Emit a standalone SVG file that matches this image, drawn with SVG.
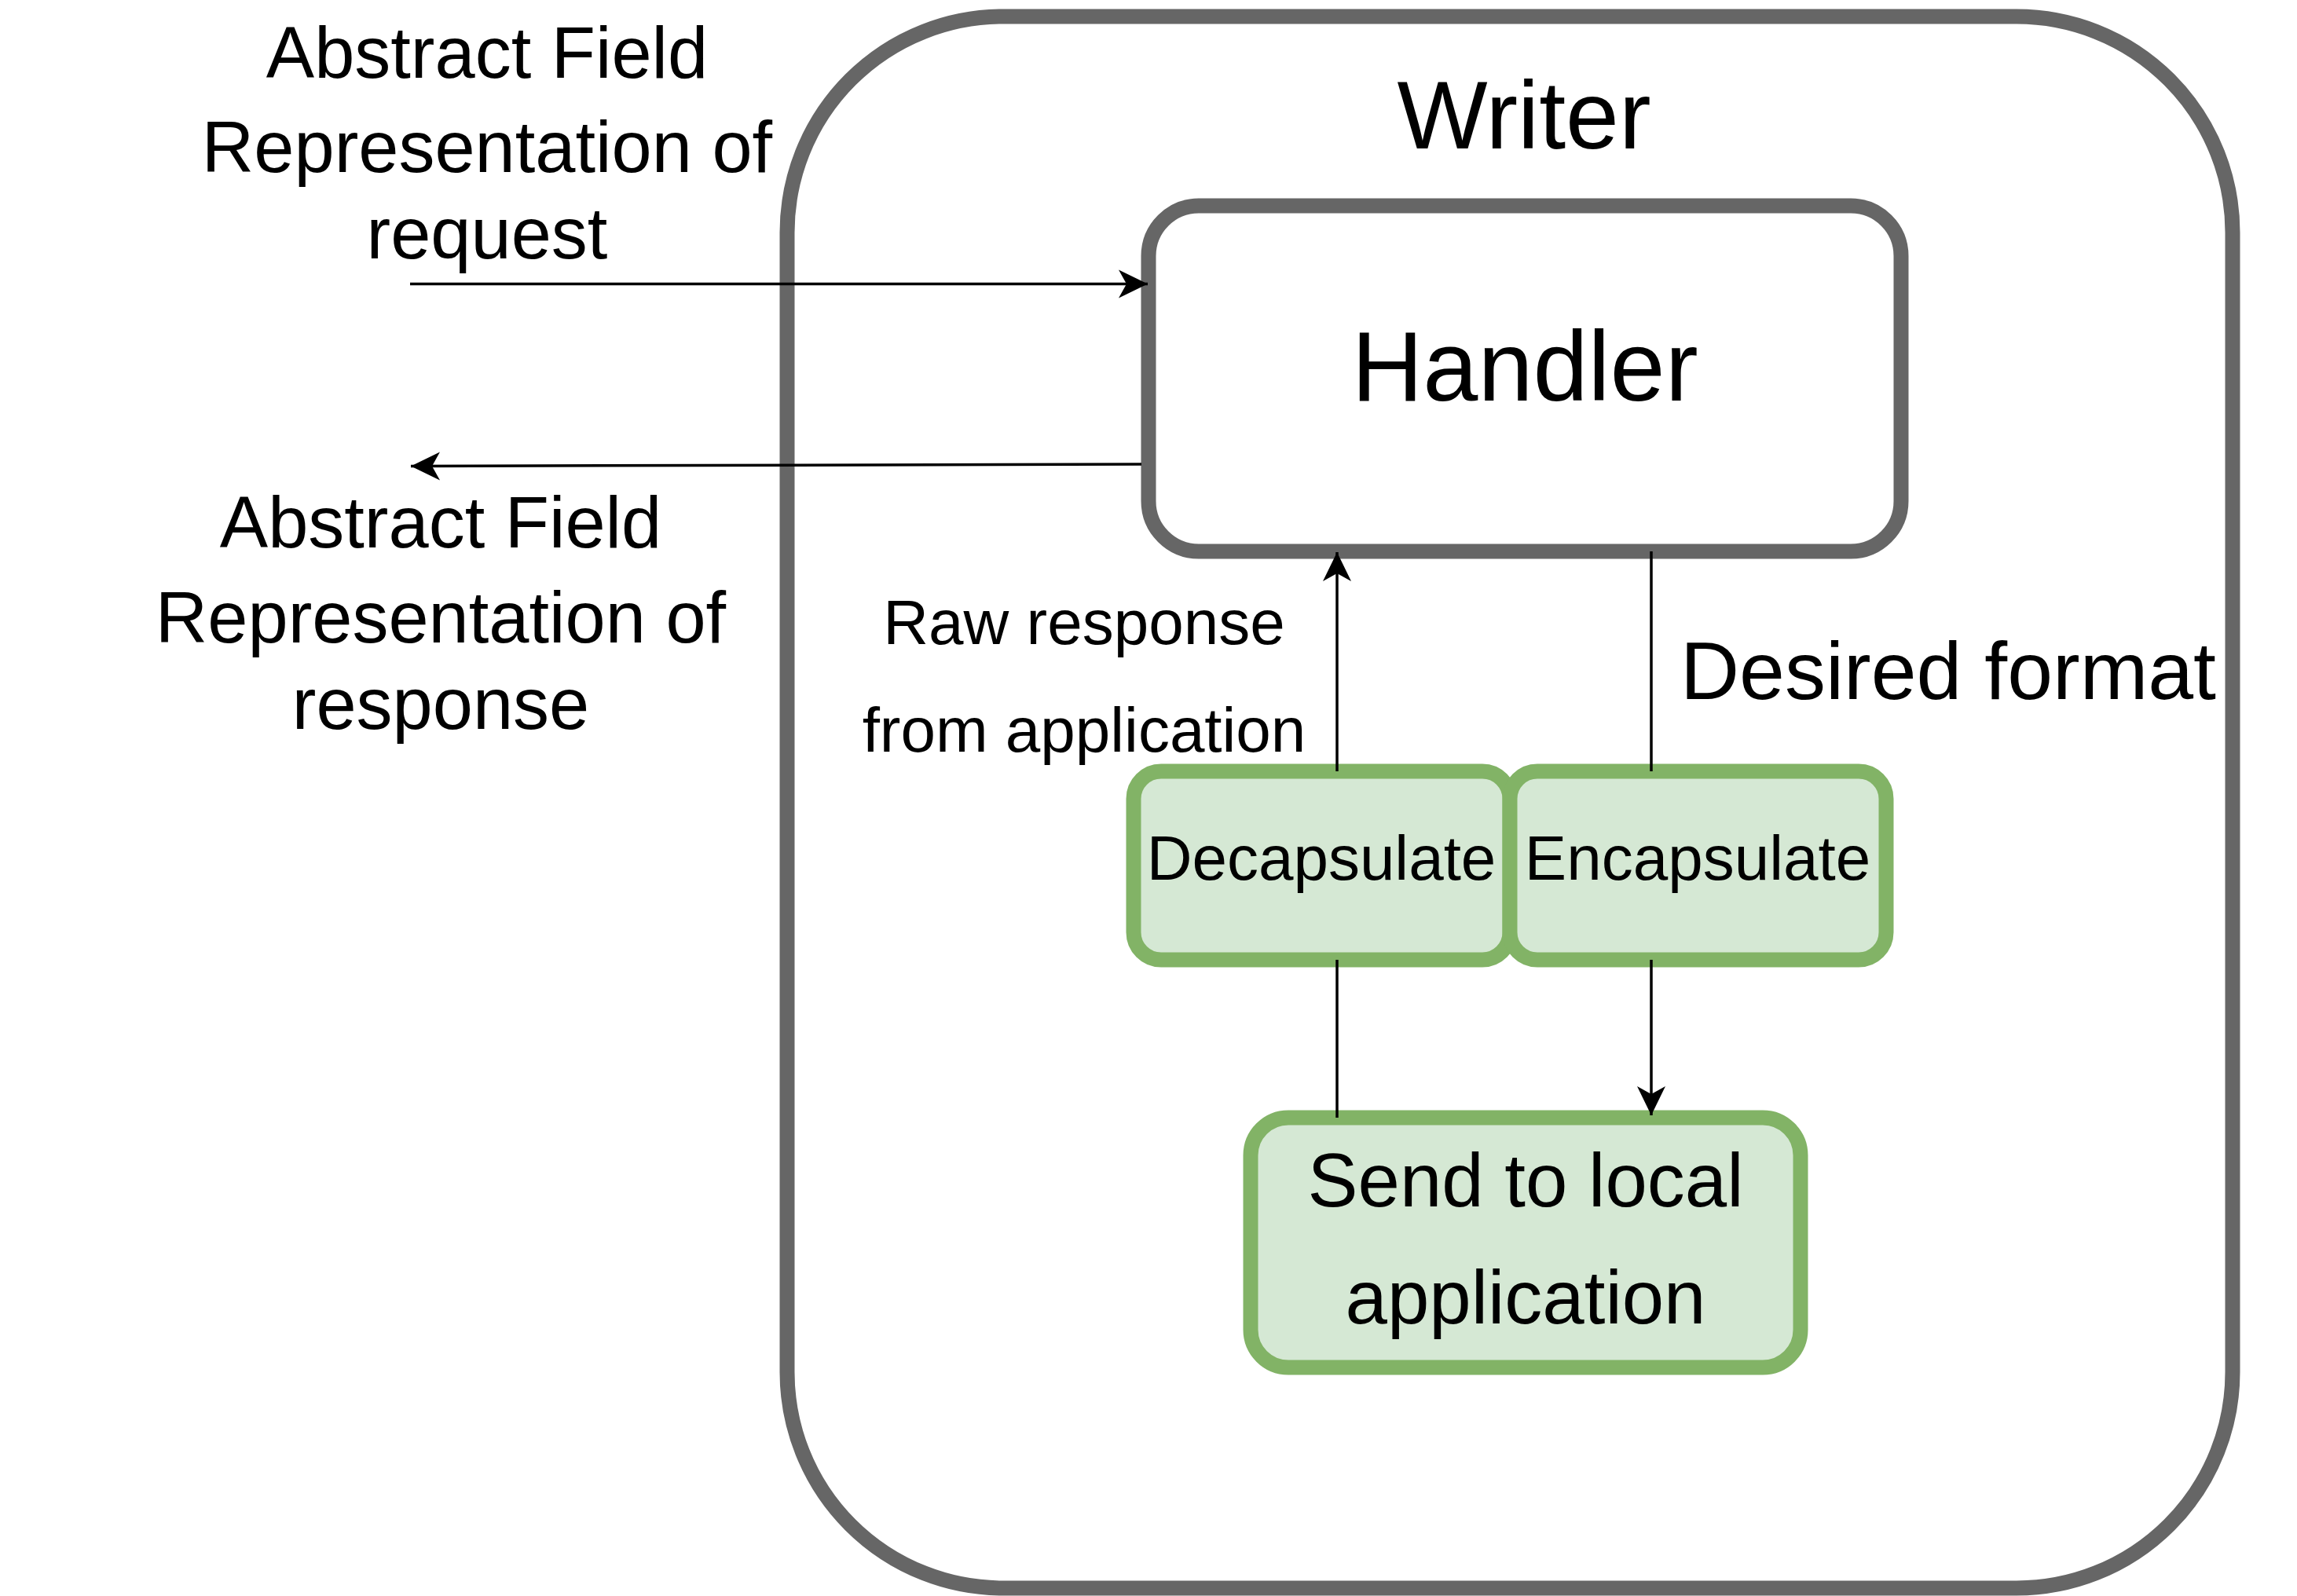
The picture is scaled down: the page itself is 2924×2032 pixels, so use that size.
<svg xmlns="http://www.w3.org/2000/svg" width="2924" height="2032" viewBox="0 0 2924 2032">
<style>
text{font-family:"Liberation Sans",Arial,Helvetica,sans-serif;fill:#000}
.gray{fill:#ffffff;stroke:#666666;stroke-width:19}
.green{fill:#d5e8d4;stroke:#82b366;stroke-width:19}
.edge{fill:none;stroke:#000;stroke-width:3.5}
.mid{text-anchor:middle}
</style>
<defs>
<marker id="arrow" markerUnits="userSpaceOnUse" markerWidth="40" markerHeight="40" refX="37" refY="18" orient="auto" overflow="visible">
<path d="M37,18 L0,0 L10,18 L0,36 Z" fill="#000"/>
</marker>
</defs>
<rect width="2924" height="2032" fill="#ffffff"/>
<g id="writer">
<rect class="gray" x="1002" y="21" width="1840" height="2001" rx="275" ry="275"/>
<text class="mid" x="1940" y="189" font-size="122">Writer</text>
</g>
<g id="handler">
<rect class="gray" x="1462" y="262" width="958" height="440" rx="64" ry="64"/>
<text class="mid" x="1941" y="510" font-size="126">Handler</text>
</g>
<g id="decapsulate">
<rect class="green" x="1443" y="982" width="479" height="240" rx="35" ry="35"/>
<text class="mid" x="1682" y="1120" font-size="80">Decapsulate</text>
</g>
<g id="encapsulate">
<rect class="green" x="1922" y="982" width="479" height="240" rx="35" ry="35"/>
<text class="mid" x="2161" y="1120" font-size="80">Encapsulate</text>
</g>
<g id="send">
<rect class="green" x="1592" y="1423" width="700" height="318" rx="48" ry="48"/>
<text class="mid" x="1942" y="1536" font-size="96">Send to local</text>
<text class="mid" x="1942" y="1685" font-size="96">application</text>
</g>
<g id="request-label">
<text class="mid" x="620" y="99" font-size="92">Abstract Field</text>
<text class="mid" x="620" y="219" font-size="92">Representation of</text>
<text class="mid" x="620" y="329" font-size="92">request</text>
</g>
<g id="response-label">
<text class="mid" x="561" y="697" font-size="92">Abstract Field</text>
<text class="mid" x="561" y="818" font-size="92">Representation of</text>
<text class="mid" x="561" y="928" font-size="92">response</text>
</g>
<g id="connectors">
<path class="edge" d="M522,361.5 L1461,361.5" marker-end="url(#arrow)"/>
<path class="edge" d="M1453,591 L523,593.5" marker-end="url(#arrow)"/>
<path class="edge" d="M1702,982 L1702,703" marker-end="url(#arrow)"/>
<path class="edge" d="M2102,702 L2102,982"/>
<path class="edge" d="M1702,1222 L1702,1423"/>
<path class="edge" d="M2102,1222 L2102,1420" marker-end="url(#arrow)"/>
<text class="mid" x="1380" y="820" font-size="80">Raw response</text>
<text class="mid" x="1380" y="957" font-size="80">from application</text>
<text class="mid" x="2480" y="890" font-size="104">Desired format</text>
</g>
</svg>
